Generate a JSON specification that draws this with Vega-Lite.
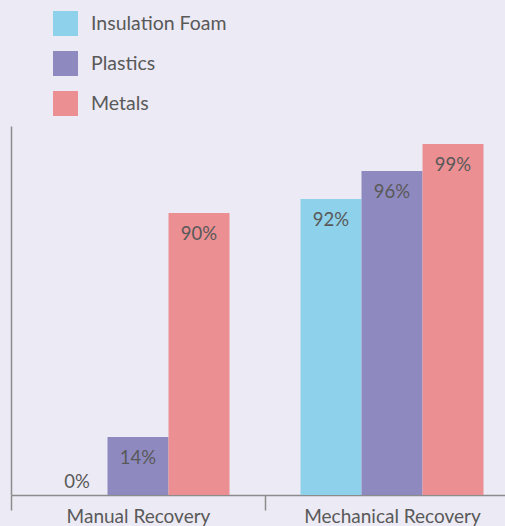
{
  "$schema": "https://vega.github.io/schema/vega-lite/v6.json",
  "autosize": "none",
  "padding": {"left": 11, "top": 126, "right": 0, "bottom": 31},
  "width": 508,
  "height": 369,
  "background": "#ECEAF4",
  "config": {
    "view": {"stroke": null},
    "font": "Lato",
    "text": {"font": "Lato"}
  },
  "data": {
    "values": [
      {"method": "Manual Recovery", "material": "Insulation Foam", "height": 0, "label": "0%"},
      {"method": "Manual Recovery", "material": "Plastics", "height": 15.7, "label": "14%"},
      {"method": "Manual Recovery", "material": "Metals", "height": 76.4, "label": "90%"},
      {"method": "Mechanical Recovery", "material": "Insulation Foam", "height": 80.2, "label": "92%"},
      {"method": "Mechanical Recovery", "material": "Plastics", "height": 87.8, "label": "96%"},
      {"method": "Mechanical Recovery", "material": "Metals", "height": 95.1, "label": "99%"}
    ]
  },
  "encoding": {
    "x": {
      "field": "method",
      "type": "nominal",
      "sort": ["Manual Recovery", "Mechanical Recovery"],
      "scale": {"paddingInner": 0, "paddingOuter": 0},
      "axis": {
        "title": null,
        "labelAngle": 0,
        "labelFontSize": 19,
        "labelColor": "#595959",
        "labelFont": "Lato",
        "domainColor": "#8c8c8c",
        "domainWidth": 1.5,
        "tickColor": "#8c8c8c",
        "tickWidth": 1.5,
        "tickSize": 15,
        "tickBand": "extent",
        "labelPadding": -3,
        "labelBaseline": "top"
      }
    },
    "xOffset": {
      "field": "material",
      "type": "nominal",
      "sort": ["Insulation Foam", "Plastics", "Metals"],
      "scale": {"paddingInner": 0, "paddingOuter": 0.582}
    },
    "y": {
      "field": "height",
      "type": "quantitative",
      "scale": {"domain": [0, 100], "nice": false},
      "axis": {
        "title": null,
        "labels": false,
        "ticks": false,
        "grid": false,
        "domainColor": "#8c8c8c",
        "domainWidth": 1.5
      }
    }
  },
  "layer": [
    {
      "mark": {"type": "bar"},
      "encoding": {
        "color": {
          "field": "material",
          "type": "nominal",
          "scale": {
            "domain": ["Insulation Foam", "Plastics", "Metals"],
            "range": ["#8ED1EA", "#8E89BF", "#EB8F93"]
          },
          "legend": {
            "orient": "none",
            "legendX": 42,
            "legendY": -115,
            "title": null,
            "padding": 0,
            "symbolType": "square",
            "symbolSize": 625,
            "symbolStrokeWidth": 0,
            "symbolOpacity": 1,
            "labelFontSize": 19.5,
            "labelFont": "Lato",
            "labelColor": "#595959",
            "labelOffset": 13,
            "rowPadding": 15
          }
        }
      }
    },
    {
      "transform": [{"filter": "datum.height > 0"}],
      "mark": {"type": "text", "dy": 21, "fontSize": 18.5, "color": "#595959", "baseline": "middle"},
      "encoding": {"text": {"field": "label"}}
    },
    {
      "transform": [{"filter": "datum.height == 0"}],
      "mark": {"type": "text", "dy": -13, "fontSize": 18.5, "color": "#595959", "baseline": "middle"},
      "encoding": {"text": {"field": "label"}}
    }
  ]
}
